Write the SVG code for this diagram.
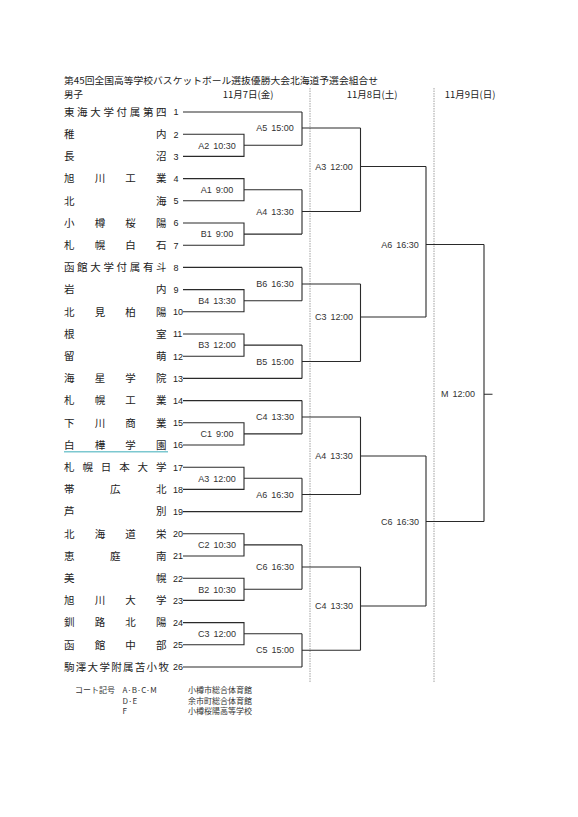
<svg xmlns="http://www.w3.org/2000/svg" width="578" height="817" viewBox="0 0 578 817">
<style>
text{fill:#222;font-family:"Noto Sans CJK JP","Liberation Sans",sans-serif}
.nm{font-size:10.5px}
.no{font-size:9px;font-family:"Liberation Sans",sans-serif}
.lb{font-size:9px;font-family:"Liberation Sans",sans-serif;text-anchor:middle;word-spacing:1.5px;fill:#333}
.hd{font-size:9.5px}
.ft{font-size:8px;fill:#333}
.ln{fill:none;stroke:#2a2a2a;stroke-width:1.1}
.sep{stroke:#888;stroke-width:0.8;stroke-dasharray:1.5 1}
</style>
<rect width="578" height="817" fill="#fff"/>
<g id="header">
<text class="hd" x="64" y="84" textLength="314" lengthAdjust="spacingAndGlyphs">第45回全国高等学校バスケットボール選抜優勝大会北海道予選会組合せ</text>
<text class="hd" x="64" y="98">男子</text>
<text class="hd" x="248" y="98" text-anchor="middle">11月7日(金)</text>
<text class="hd" x="372" y="98" text-anchor="middle">11月8日(土)</text>
<text class="hd" x="470" y="98" text-anchor="middle">11月9日(日)</text>
</g>
<g id="separators">
<line class="sep" x1="310" y1="88" x2="310" y2="683"/>
<line class="sep" x1="434" y1="88" x2="434" y2="683"/>
</g>
<g id="teams">
<g id="t1"><text class="nm" x="64 77.1 90.3 103.4 116.6 129.7 142.9 156" y="115.8">東海大学付属第四</text><text class="no" x="173.5" y="115.3">1</text></g>
<g id="t2"><text class="nm" x="64 156" y="138">稚内</text><text class="no" x="173.5" y="137.5">2</text></g>
<g id="t3"><text class="nm" x="64 156" y="160.2">長沼</text><text class="no" x="173.5" y="159.7">3</text></g>
<g id="t4"><text class="nm" x="64 94.7 125.3 156" y="182.4">旭川工業</text><text class="no" x="173.5" y="181.9">4</text></g>
<g id="t5"><text class="nm" x="64 156" y="204.6">北海</text><text class="no" x="173.5" y="204.1">5</text></g>
<g id="t6"><text class="nm" x="64 94.7 125.3 156" y="226.8">小樽桜陽</text><text class="no" x="173.5" y="226.3">6</text></g>
<g id="t7"><text class="nm" x="64 94.7 125.3 156" y="249">札幌白石</text><text class="no" x="173.5" y="248.5">7</text></g>
<g id="t8"><text class="nm" x="64 77.1 90.3 103.4 116.6 129.7 142.9 156" y="271.2">函館大学付属有斗</text><text class="no" x="173.5" y="270.7">8</text></g>
<g id="t9"><text class="nm" x="64 156" y="293.4">岩内</text><text class="no" x="173.5" y="292.9">9</text></g>
<g id="t10"><text class="nm" x="64 94.7 125.3 156" y="315.6">北見柏陽</text><text class="no" x="173" y="315.1">10</text></g>
<g id="t11"><text class="nm" x="64 156" y="337.8">根室</text><text class="no" x="173" y="337.3">11</text></g>
<g id="t12"><text class="nm" x="64 156" y="360">留萌</text><text class="no" x="173" y="359.5">12</text></g>
<g id="t13"><text class="nm" x="64 94.7 125.3 156" y="382.2">海星学院</text><text class="no" x="173" y="381.7">13</text></g>
<g id="t14"><text class="nm" x="64 94.7 125.3 156" y="404.4">札幌工業</text><text class="no" x="173" y="403.9">14</text></g>
<g id="t15"><text class="nm" x="64 94.7 125.3 156" y="426.6">下川商業</text><text class="no" x="173" y="426.1">15</text></g>
<g id="t16"><text class="nm" x="64 94.7 125.3 156" y="448.8">白樺学園</text><text class="no" x="173" y="448.3">16</text><line x1="64" y1="451.8" x2="168" y2="451.8" stroke="#7cc8d0" stroke-width="1.5"/></g>
<g id="t17"><text class="nm" x="64 82.4 100.8 119.2 137.6 156" y="471">札幌日本大学</text><text class="no" x="173" y="470.5">17</text></g>
<g id="t18"><text class="nm" x="64 110 156" y="493.2">帯広北</text><text class="no" x="173" y="492.7">18</text></g>
<g id="t19"><text class="nm" x="64 156" y="515.4">芦別</text><text class="no" x="173" y="514.9">19</text></g>
<g id="t20"><text class="nm" x="64 94.7 125.3 156" y="537.6">北海道栄</text><text class="no" x="173" y="537.1">20</text></g>
<g id="t21"><text class="nm" x="64 110 156" y="559.8">恵庭南</text><text class="no" x="173" y="559.3">21</text></g>
<g id="t22"><text class="nm" x="64 156" y="582">美幌</text><text class="no" x="173" y="581.5">22</text></g>
<g id="t23"><text class="nm" x="64 94.7 125.3 156" y="604.2">旭川大学</text><text class="no" x="173" y="603.7">23</text></g>
<g id="t24"><text class="nm" x="64 94.7 125.3 156" y="626.4">釧路北陽</text><text class="no" x="173" y="625.9">24</text></g>
<g id="t25"><text class="nm" x="64 94.7 125.3 156" y="648.6">函館中部</text><text class="no" x="173" y="648.1">25</text></g>
<g id="t26"><text class="nm" x="64 75.8 87.6 99.4 111.2 123 134.8 146.6 158.4" y="670.8">駒澤大学附属苫小牧</text><text class="no" x="173" y="670.3">26</text></g>
</g>
<g id="connectors" class="ln">
<path d="M183,112H302"/>
<path d="M183,134.2H244V156.4H183M244,145.3H302"/>
<path d="M183,178.6H244V200.8H183M244,189.7H302"/>
<path d="M183,223H244V245.2H183M244,234.1H302"/>
<path d="M183,267.4H302"/>
<path d="M183,289.6H244V311.8H183M244,300.7H302"/>
<path d="M183,334H244V356.2H183M244,345.1H302"/>
<path d="M183,378.4H302"/>
<path d="M183,400.6H302"/>
<path d="M183,422.8H244V445H183M244,433.9H302"/>
<path d="M183,467.2H244V489.4H183M244,478.3H302"/>
<path d="M183,511.6H302"/>
<path d="M183,533.8H244V556H183M244,544.9H302"/>
<path d="M183,578.2H244V600.4H183M244,589.3H302"/>
<path d="M183,622.6H244V644.8H183M244,633.7H302"/>
<path d="M183,667H302"/>
<path d="M302,112V145.3M302,128H360.5"/>
<path d="M302,189.7V234.1M302,211.5H360.5"/>
<path d="M302,267.4V300.7M302,284H360.5"/>
<path d="M302,345.1V378.4M302,361.5H360.5"/>
<path d="M302,400.6V433.9M302,417H360.5"/>
<path d="M302,478.3V511.6M302,494.5H360.5"/>
<path d="M302,544.9V589.3M302,567H360.5"/>
<path d="M302,633.7V667M302,650.3H360.5"/>
<path d="M360.5,128V211.5M360.5,166.5H426"/>
<path d="M360.5,284V361.5M360.5,317H426"/>
<path d="M360.5,417V494.5M360.5,456H426"/>
<path d="M360.5,567V650.3M360.5,606H426"/>
<path d="M426,166.5V317M426,244.5H484"/>
<path d="M426,456V606M426,521.5H484"/>
<path d="M484,244.5V521.5M484,394.3H492.5"/>
</g>
<g id="matches">
<g id="mA2"><text class="lb" x="217" y="148.5">A2 10:30</text></g>
<g id="mA1"><text class="lb" x="217" y="192.9">A1 9:00</text></g>
<g id="mB1"><text class="lb" x="217" y="237.3">B1 9:00</text></g>
<g id="mB4"><text class="lb" x="217" y="303.9">B4 13:30</text></g>
<g id="mB3"><text class="lb" x="217" y="348.3">B3 12:00</text></g>
<g id="mC1"><text class="lb" x="217" y="437.1">C1 9:00</text></g>
<g id="mA3a"><text class="lb" x="217" y="481.5">A3 12:00</text></g>
<g id="mC2"><text class="lb" x="217" y="548.1">C2 10:30</text></g>
<g id="mB2"><text class="lb" x="217" y="592.5">B2 10:30</text></g>
<g id="mC3a"><text class="lb" x="217" y="636.9">C3 12:00</text></g>
<g id="mA5"><text class="lb" x="275" y="131">A5 15:00</text></g>
<g id="mA4a"><text class="lb" x="275" y="214.5">A4 13:30</text></g>
<g id="mB6"><text class="lb" x="275" y="287">B6 16:30</text></g>
<g id="mB5"><text class="lb" x="275" y="364.5">B5 15:00</text></g>
<g id="mC4a"><text class="lb" x="275" y="420">C4 13:30</text></g>
<g id="mA6a"><text class="lb" x="275" y="497.5">A6 16:30</text></g>
<g id="mC6a"><text class="lb" x="275" y="570">C6 16:30</text></g>
<g id="mC5"><text class="lb" x="275" y="653.3">C5 15:00</text></g>
<g id="mA3b"><text class="lb" x="334" y="169.5">A3 12:00</text></g>
<g id="mC3b"><text class="lb" x="334" y="320">C3 12:00</text></g>
<g id="mA4b"><text class="lb" x="334" y="459">A4 13:30</text></g>
<g id="mC4b"><text class="lb" x="334" y="609">C4 13:30</text></g>
<g id="mA6b"><text class="lb" x="400" y="247.5">A6 16:30</text></g>
<g id="mC6b"><text class="lb" x="400" y="524.5">C6 16:30</text></g>
<g id="mM"><text class="lb" x="458" y="397.3">M 12:00</text></g>
</g>
<g id="footer">
<text class="ft" x="75" y="692.7">コート記号</text>
<text class="ft" x="122.5" y="692.7">A·B·C·M</text>
<text class="ft" x="122.5" y="703.5">D·E</text>
<text class="ft" x="122.5" y="714.3">F</text>
<text class="ft" x="188" y="692.7">小樽市総合体育館</text>
<text class="ft" x="188" y="703.5">余市町総合体育館</text>
<text class="ft" x="188" y="714.3">小樽桜陽高等学校</text>
</g>
</svg>
